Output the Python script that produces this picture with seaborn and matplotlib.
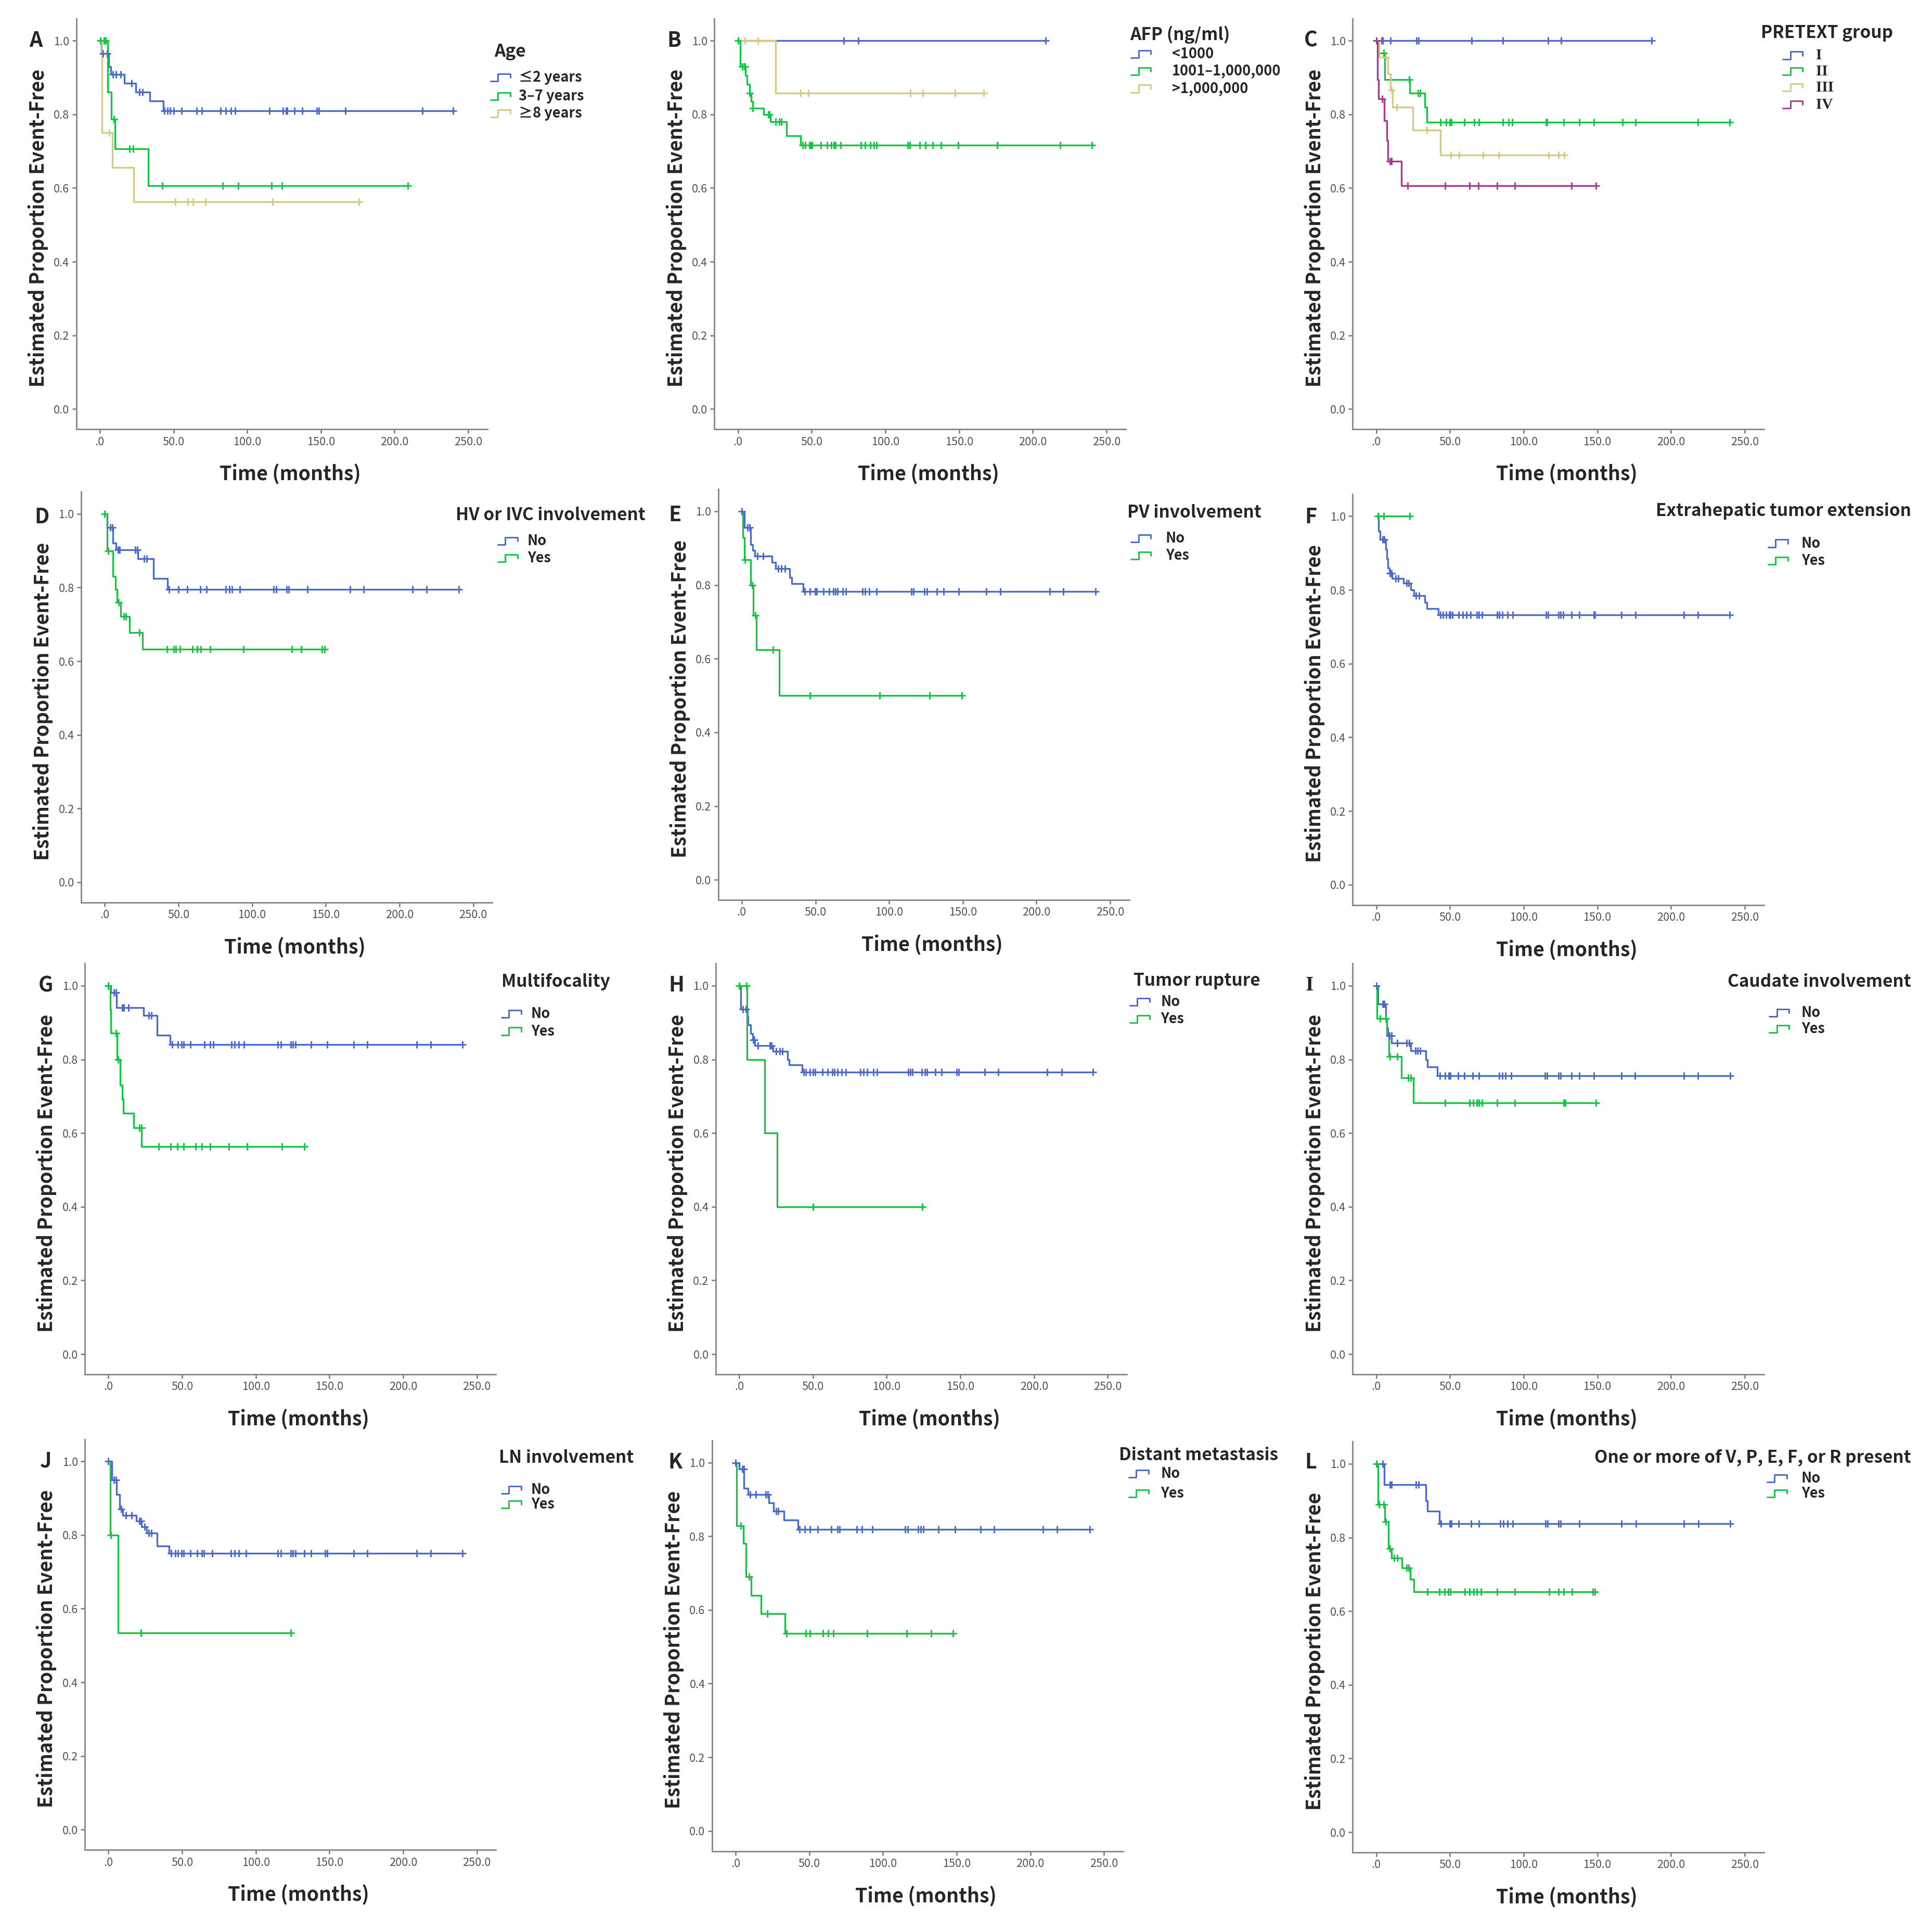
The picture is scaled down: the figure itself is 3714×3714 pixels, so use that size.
import numpy as np
import pandas as pd
import matplotlib
matplotlib.use("Agg")
import matplotlib.pyplot as plt
import seaborn as sns
from matplotlib.lines import Line2D

# Kaplan-Meier curves, event-free survival by risk factor (12 panels)
# each group: step times (_t), proportion after the step (_s), censored times (_c)

# A  Age
a1_t = [0, 1.0, 6.0, 7.5, 16.7, 24.4, 33.9, 43.0]
a1_s = [1.0, 0.965, 0.93, 0.908, 0.885, 0.861, 0.837, 0.809]
a1_c = [2.2, 5.0, 9.0, 11.0, 14.0, 21.7, 27.0, 29.0, 43.9, 45.8, 47.8, 50.0, 55.6, 65.6, 69.4,
        81.9, 85.6, 88.9, 91.7, 115.3, 124.4, 126.4, 127.2, 131.9, 137.5, 147.2, 148.6, 166.7,
        218.9, 239.7]
a2_t = [0, 5.5, 7.8, 10.3, 32.8]
a2_s = [1.0, 0.86, 0.787, 0.707, 0.606]
a2_c = [0.3, 3.0, 4.0, 9.7, 20.3, 22.8, 42.5, 83.3, 93.9, 116.7, 123.6, 208.9]
a3_t = [0, 1.4, 8.6, 23.0]
a3_s = [1.0, 0.751, 0.656, 0.563]
a3_c = [6.4, 51.1, 59.7, 63.1, 71.7, 117.2, 175.8]

# B  AFP
b1_t = [0]
b1_s = [1.0]
b1_c = [71.7, 81.5, 208.8]
b2_t = [0, 1.5, 5.0, 6.0, 8.0, 9.0, 10.0, 17.5, 22.0, 33.0, 42.3]
b2_s = [1.0, 0.929, 0.905, 0.882, 0.858, 0.835, 0.817, 0.80, 0.78, 0.742, 0.717]
b2_c = [0.0, 2.8, 4.2, 4.7, 8.0, 10.0, 20.6, 21.4, 25.6, 28.1, 29.2, 43.7, 45.6, 48.4, 49.5,
        50.3, 56.1, 60.3, 63.3, 65.0, 66.1, 69.5, 83.4, 86.2, 89.8, 92.3, 93.9, 115.3, 116.7,
        123.4, 127.3, 132.0, 137.6, 149.3, 175.7, 218.6, 240.0]
b3_t = [0, 25.6]
b3_s = [1.0, 0.858]
b3_c = [4.7, 13.6, 42.5, 47.8, 116.8, 125.4, 147.4, 166.6]

# C  PRETEXT group
c1_t = [0]
c1_s = [1.0]
c1_c = [3.6, 4.4, 9.7, 27.1, 28.7, 64.6, 85.9, 116.6, 125.4, 186.7]
c2_t = [0, 1.4, 5.8, 22.7, 32.9, 34.5]
c2_s = [1.0, 0.966, 0.894, 0.857, 0.819, 0.778]
c2_c = [5.2, 22.4, 28.2, 29.8, 43.6, 47.5, 49.7, 50.8, 59.9, 66.3, 69.6, 85.9, 89.8, 92.3,
        115.2, 116.0, 127.1, 137.6, 147.5, 166.9, 176.0, 218.2, 239.8]
c3_t = [0, 2.0, 7.7, 9.5, 11.0, 24.9, 43.4]
c3_s = [1.0, 0.955, 0.91, 0.866, 0.819, 0.757, 0.689]
c3_c = [6.6, 10.5, 13.8, 34.5, 50.6, 56.1, 72.4, 83.1, 117.1, 123.5, 127.6]
c4_t = [0, 0.8, 1.5, 5.5, 7.0, 8.0, 17.1]
c4_s = [1.0, 0.895, 0.842, 0.783, 0.729, 0.673, 0.606]
c4_c = [0.0, 3.9, 9.4, 10.5, 21.3, 46.7, 63.3, 69.1, 82.0, 93.9, 132.6, 149.2]

# D  HV or IVC involvement
d1_t = [0, 1.7, 5.6, 7.5, 22.5, 33.0, 42.5]
d1_s = [1.0, 0.963, 0.92, 0.902, 0.878, 0.824, 0.795]
d1_c = [3.9, 5.3, 8.9, 10.0, 20.6, 22.0, 26.7, 28.4, 43.7, 50.0, 55.9, 64.8, 69.2, 82.0, 84.5,
        86.5, 91.8, 114.6, 116.5, 123.5, 124.9, 137.4, 166.6, 175.5, 208.8, 218.3, 240.3]
d2_t = [0, 1.7, 5.6, 7.2, 8.5, 11.0, 17.0, 25.6]
d2_s = [1.0, 0.90, 0.83, 0.795, 0.759, 0.721, 0.678, 0.633]
d2_c = [0.0, 2.5, 9.5, 13.0, 14.5, 23.4, 42.3, 47.0, 48.4, 51.2, 59.5, 62.6, 65.1, 71.7, 94.0,
        127.1, 133.2, 147.4, 149.1]

# E  PV involvement
e1_t = [0, 1.7, 6.0, 7.5, 9.0, 20.6, 22.8, 32.5, 34.0, 41.7]
e1_s = [1.0, 0.956, 0.91, 0.894, 0.879, 0.862, 0.844, 0.82, 0.804, 0.782]
e1_c = [0.0, 3.9, 5.3, 10.6, 14.5, 24.7, 26.7, 29.5, 42.8, 46.2, 49.8, 50.9, 55.3, 59.2, 62.0,
        63.7, 65.1, 68.4, 70.6, 81.8, 83.7, 86.5, 91.5, 115.1, 116.5, 124.0, 125.7, 132.4,
        137.1, 147.4, 166.0, 175.5, 208.9, 218.1, 240.0]
e2_t = [0, 0.8, 1.7, 6.1, 7.8, 10.0, 25.6]
e2_s = [1.0, 0.93, 0.869, 0.799, 0.717, 0.625, 0.50]
e2_c = [2.0, 7.0, 9.2, 21.1, 46.4, 93.7, 127.6, 149.3]

# F  Extrahepatic tumor extension
f1_t = [0, 1.4, 2.5, 6.4, 7.0, 8.0, 9.0, 10.8, 18.5, 23.5, 25.4, 32.9, 34.5, 42.0]
f1_s = [1.0, 0.96, 0.937, 0.91, 0.885, 0.86, 0.845, 0.831, 0.818, 0.80, 0.785, 0.766, 0.75, 0.733]
f1_c = [4.4, 5.5, 9.4, 10.2, 13.0, 14.9, 20.4, 21.8, 26.8, 29.0, 43.4, 45.3, 47.5, 49.4, 50.3,
        51.7, 55.8, 58.6, 61.3, 64.1, 68.2, 69.6, 71.8, 82.0, 83.4, 85.6, 89.0, 92.5, 115.2,
        116.6, 123.5, 124.9, 126.8, 132.6, 137.6, 147.5, 148.3, 166.3, 176.0, 208.6, 218.2, 239.8]
f2_t = [0]
f2_s = [1.0]
f2_c = [1.1, 5.2, 22.7]

# G  Multifocality
g1_t = [0, 1.7, 5.6, 24.0, 32.9, 41.8]
g1_s = [1.0, 0.981, 0.94, 0.919, 0.866, 0.84]
g1_c = [0.0, 3.6, 5.0, 9.2, 10.6, 13.6, 27.3, 29.2, 43.4, 47.3, 49.6, 50.9, 55.7, 65.1, 69.0,
        71.3, 83.5, 85.7, 88.5, 92.1, 115.0, 116.9, 123.6, 125.3, 126.9, 137.5, 148.4, 166.5,
        175.7, 209.1, 218.8, 240.3]
g2_t = [0, 1.1, 1.7, 5.8, 7.8, 9.2, 10.0, 17.0, 22.5]
g2_s = [1.0, 0.935, 0.871, 0.80, 0.73, 0.692, 0.654, 0.614, 0.563]
g2_c = [0.0, 5.0, 6.4, 20.9, 22.3, 34.2, 42.3, 46.8, 50.9, 59.3, 63.5, 69.0, 81.6, 94.1, 117.8,
        132.8]

# H  Tumor rupture
h1_t = [0, 1.1, 5.6, 6.1, 7.8, 9.2, 10.6, 22.9, 32.6, 34.0, 42.6]
h1_s = [1.0, 0.937, 0.915, 0.894, 0.87, 0.853, 0.838, 0.822, 0.80, 0.785, 0.765]
h1_c = [2.5, 4.5, 9.5, 10.3, 12.5, 20.6, 21.7, 25.1, 27.6, 29.3, 43.8, 45.2, 47.9, 49.9, 51.6,
        56.3, 59.9, 63.3, 64.7, 66.6, 69.4, 72.2, 82.2, 84.2, 86.9, 91.1, 93.4, 114.8, 116.2,
        117.6, 124.0, 126.0, 127.4, 132.9, 137.1, 147.4, 148.8, 166.7, 175.6, 209.0, 218.8, 240.0]
h2_t = [0, 5.3, 17.3, 25.6]
h2_s = [1.0, 0.80, 0.60, 0.40]
h2_c = [0.0, 5.0, 49.9, 124.3]

# I  Caudate involvement
i1_t = [0, 1.1, 6.4, 7.2, 8.0, 10.5, 23.5, 33.5, 34.6, 41.3]
i1_s = [1.0, 0.95, 0.91, 0.885, 0.865, 0.844, 0.823, 0.80, 0.78, 0.755]
i1_c = [0.0, 4.2, 5.5, 8.9, 10.2, 14.1, 20.5, 22.4, 26.6, 28.0, 29.6, 43.2, 46.8, 49.3, 50.1,
        55.6, 59.8, 65.3, 69.5, 83.3, 85.5, 87.5, 91.6, 114.6, 116.0, 123.5, 124.9, 132.6,
        137.6, 147.6, 166.4, 175.5, 208.7, 218.4, 240.0]
i2_t = [0, 0.6, 7.2, 8.6, 16.9, 25.2]
i2_s = [1.0, 0.911, 0.865, 0.808, 0.75, 0.682]
i2_c = [2.5, 6.4, 9.1, 14.1, 21.6, 23.3, 46.8, 63.1, 65.9, 68.1, 69.5, 71.7, 81.9, 93.9, 127.1,
        128.2, 149.2]

# J  LN involvement
j1_t = [0, 2.2, 5.6, 7.5, 9.7, 18.9, 22.3, 25.9, 32.9, 41.2]
j1_s = [1.0, 0.95, 0.91, 0.87, 0.854, 0.838, 0.822, 0.805, 0.77, 0.751]
j1_c = [0.0, 3.9, 5.0, 8.6, 12.0, 15.6, 20.9, 22.0, 24.5, 27.3, 29.2, 42.6, 45.4, 47.3, 49.6,
        50.9, 55.7, 60.1, 63.5, 64.9, 70.4, 83.0, 85.7, 88.5, 93.3, 115.0, 116.9, 123.6, 125.3,
        126.9, 133.0, 137.5, 147.0, 148.4, 166.5, 175.7, 209.1, 218.8, 240.3]
j2_t = [0, 1.1, 6.7]
j2_s = [1.0, 0.80, 0.534]
j2_c = [1.7, 22.0, 123.6]

# K  Distant metastasis
k1_t = [0, 2.5, 5.8, 8.6, 22.5, 25.8, 32.8, 42.5]
k1_s = [1.0, 0.982, 0.93, 0.913, 0.89, 0.868, 0.844, 0.818]
k1_c = [0.0, 4.4, 5.5, 10.0, 13.6, 20.3, 21.7, 27.5, 28.9, 43.3, 46.9, 50.3, 55.8, 65.0, 69.2,
        70.6, 82.2, 85.6, 92.8, 115.0, 116.9, 123.9, 125.8, 127.5, 137.8, 148.9, 166.4, 175.3,
        208.6, 218.3, 240.3]
k2_t = [0, 0.8, 5.3, 7.2, 10.6, 17.2, 33.6]
k2_s = [1.0, 0.829, 0.78, 0.69, 0.64, 0.59, 0.536]
k2_c = [3.6, 9.2, 21.4, 34.4, 47.5, 50.3, 59.4, 62.8, 66.4, 89.2, 116.1, 132.8, 147.5]

# L  One or more of V, P, E, F, or R present
l1_t = [0, 5.5, 33.7, 34.6, 42.9]
l1_s = [1.0, 0.943, 0.90, 0.872, 0.837]
l1_c = [4.4, 9.4, 10.5, 26.8, 28.8, 44.0, 49.8, 50.9, 55.9, 64.2, 69.7, 84.1, 86.3, 89.0, 92.4,
        114.8, 116.2, 123.6, 125.0, 137.7, 166.5, 176.2, 208.8, 218.5, 240.0]
l2_t = [0, 1.1, 5.8, 8.3, 10.2, 17.4, 23.0, 25.4]
l2_s = [1.0, 0.89, 0.843, 0.77, 0.744, 0.718, 0.687, 0.653]
l2_c = [0.0, 1.9, 5.0, 6.6, 9.1, 12.2, 14.1, 20.7, 22.1, 34.6, 42.9, 46.2, 48.9, 50.3, 60.0,
        63.3, 66.1, 68.3, 71.1, 82.1, 94.0, 117.3, 123.6, 127.2, 132.7, 147.1, 148.5]

yes_no = ["No", "Yes"]
x_ticks = [0, 50, 100, 150, 200, 250]
x_ticklabels = [".0", "50.0", "100.0", "150.0", "200.0", "250.0"]
y_ticks = [0.0, 0.2, 0.4, 0.6, 0.8, 1.0]
y_ticklabels = ["0.0", "0.2", "0.4", "0.6", "0.8", "1.0"]

BLUE = "#4a6acc"
GREEN = "#14c445"
KHAKI = "#d4ca86"
PURPLE = "#ad3790"

# layout is measured on a 1568 px preview of the figure
P = 1568.0
def fx(x):
    return x / P
def fy(y):
    return 1 - y / P

XLIM = (-16, 263)
YLIM = (-0.055, 1.06)
UX = 299 / 250.0
UY = 299.0

panels = [
    dict(letter="A", x0=81, y1=33, title="Age", tx=401, ty=42, ha="left",
         groups=[(a1_t, a1_s, a1_c), (a2_t, a2_s, a2_c), (a3_t, a3_s, a3_c)],
         labels=["≤2 years", "3–7 years", "≥8 years"], colors=[BLUE, GREEN, KHAKI],
         ix=398, lx=421, ly=[63, 78, 92]),
    dict(letter="B", x0=599, y1=33, title="AFP (ng/ml)", tx=917, ty=28, ha="left",
         groups=[(b1_t, b1_s, b1_c), (b2_t, b2_s, b2_c), (b3_t, b3_s, b3_c)],
         labels=["<1000", "1001–1,000,000", ">1,000,000"], colors=[BLUE, GREEN, KHAKI],
         ix=918, lx=951, ly=[44, 58, 72]),
    dict(letter="C", x0=1117, y1=33, title="PRETEXT group", tx=1429, ty=27, ha="left",
         groups=[(c1_t, c1_s, c1_c), (c2_t, c2_s, c2_c), (c3_t, c3_s, c3_c), (c4_t, c4_s, c4_c)],
         labels=["I", "II", "III", "IV"], colors=[BLUE, GREEN, KHAKI, PURPLE],
         ix=1447, lx=1474, ly=[45, 58, 71, 85], serif=True),
    dict(letter="D", x0=85, y1=417, title="HV or IVC involvement", tx=524, ty=418, ha="right",
         groups=[(d1_t, d1_s, d1_c), (d2_t, d2_s, d2_c)],
         labels=yes_no, colors=[BLUE, GREEN], ix=404, lx=428, ly=[439, 453]),
    dict(letter="E", x0=602, y1=415, title="PV involvement", tx=915, ty=416, ha="left",
         groups=[(e1_t, e1_s, e1_c), (e2_t, e2_s, e2_c)],
         labels=yes_no, colors=[BLUE, GREEN], ix=918, lx=946, ly=[437, 451]),
    dict(letter="F", x0=1117, y1=419, title="Extrahepatic tumor extension", tx=1551, ty=415,
         ha="right", groups=[(f1_t, f1_s, f1_c), (f2_t, f2_s, f2_c)],
         labels=yes_no, colors=[BLUE, GREEN], ix=1435, lx=1462, ly=[441, 455]),
    dict(letter="G", x0=88, y1=800, title="Multifocality", tx=407, ty=797, ha="left",
         groups=[(g1_t, g1_s, g1_c), (g2_t, g2_s, g2_c)],
         labels=yes_no, colors=[BLUE, GREEN], ix=407, lx=431, ly=[823, 837]),
    dict(letter="H", x0=600, y1=800, title="Tumor rupture", tx=920, ty=796, ha="left",
         groups=[(h1_t, h1_s, h1_c), (h2_t, h2_s, h2_c)],
         labels=yes_no, colors=[BLUE, GREEN], ix=917, lx=942, ly=[813, 827]),
    dict(letter="I", x0=1117, y1=800, title="Caudate involvement", tx=1551, ty=797, ha="right",
         groups=[(i1_t, i1_s, i1_c), (i2_t, i2_s, i2_c)],
         labels=yes_no, colors=[BLUE, GREEN], ix=1436, lx=1462, ly=[822, 835]),
    dict(letter="J", x0=88, y1=1186, title="LN involvement", tx=405, ty=1183, ha="left",
         groups=[(j1_t, j1_s, j1_c), (j2_t, j2_s, j2_c)],
         labels=yes_no, colors=[BLUE, GREEN], ix=407, lx=431, ly=[1209, 1221]),
    dict(letter="K", x0=597, y1=1187, title="Distant metastasis", tx=908, ty=1181, ha="left",
         groups=[(k1_t, k1_s, k1_c), (k2_t, k2_s, k2_c)],
         labels=yes_no, colors=[BLUE, GREEN], ix=916, lx=942, ly=[1196, 1212]),
    dict(letter="L", x0=1117, y1=1188, title="One or more of V, P, E, F, or R present",
         tx=1551, ty=1183, ha="right", groups=[(l1_t, l1_s, l1_c), (l2_t, l2_s, l2_c)],
         labels=yes_no, colors=[BLUE, GREEN], ix=1434, lx=1462, ly=[1200, 1212]),
]
letter_pos = {"A": (29, 33), "B": (547, 33), "C": (1064, 33), "D": (34, 420), "E": (548, 418),
              "F": (1064, 420), "G": (37, 800), "H": (549, 800), "I": (1063, 800),
              "J": (37, 1186), "K": (548, 1187), "L": (1064, 1187)}

sns.set_style("white")
plt.rcParams["font.family"] = ["Noto Sans CJK KR", "DejaVu Sans"]
SERIF = ["Liberation Serif", "DejaVu Serif"]


def km_frame(t, s, c):
    end = max(max(c) if c else 0, t[-1])
    return pd.DataFrame({"time": list(t) + [end], "surv": list(s) + [s[-1]]})


def censor_frame(t, s, c):
    idx = np.searchsorted(np.array(t), np.array(c), side="right") - 1
    return pd.DataFrame({"time": c, "surv": np.array(s)[idx]})


fig = plt.figure(figsize=(3714 / 300, 3714 / 300), dpi=300)
w = (XLIM[1] - XLIM[0]) * UX
h = (YLIM[1] - YLIM[0]) * UY

for p in panels:
    left = p["x0"] + XLIM[0] * UX
    top = p["y1"] - (YLIM[1] - 1.0) * UY
    ax = fig.add_axes([fx(left), fy(top + h), w / P, h / P])

    for (t, s, c), col in zip(p["groups"], p["colors"]):
        sns.lineplot(data=km_frame(t, s, c), x="time", y="surv", ax=ax, color=col, lw=0.8,
                     drawstyle="steps-post", estimator=None, sort=False, legend=False)
        sns.scatterplot(data=censor_frame(t, s, c), x="time", y="surv", ax=ax, marker="+",
                        s=12, color=col, linewidth=0.7, legend=False, zorder=3)

    ax.set_xlim(*XLIM)
    ax.set_ylim(*YLIM)
    ax.set_xticks(x_ticks)
    ax.set_xticklabels(x_ticklabels)
    ax.set_yticks(y_ticks)
    ax.set_yticklabels(y_ticklabels)
    ax.tick_params(axis="both", direction="out", length=2, width=0.6, color="#777777",
                   labelsize=5.2, labelcolor="#505050", pad=1.2, left=True, bottom=True)
    for side in ["top", "right"]:
        ax.spines[side].set_visible(False)
    for side in ["left", "bottom"]:
        ax.spines[side].set_color("#8a8a8a")
        ax.spines[side].set_linewidth(0.7)

    ax.set_xlabel("Time (months)", fontsize=9, fontweight="bold")
    ax.set_ylabel("Estimated Proportion Event-Free", fontsize=9, fontweight="bold")
    ax.xaxis.set_label_coords(0.52, -36.5 / h)
    ax.xaxis.label.set_va("center")
    ax.yaxis.set_label_coords(-31 / w, 0.49)
    ax.yaxis.label.set_va("center")

    lx, ly = letter_pos[p["letter"]]
    fam = SERIF if p["letter"] == "I" else None
    fig.text(fx(lx), fy(ly), p["letter"], fontsize=9.5, fontweight="bold", ha="center",
             va="center", family=fam)

    # legend: title + SPSS-like step icons
    fig.text(fx(p["tx"]), fy(p["ty"]), p["title"], fontsize=8, fontweight="bold",
             ha=p["ha"], va="center")
    for lab, col, yy in zip(p["labels"], p["colors"], p["ly"]):
        x_a = p["ix"]
        xs = [x_a, x_a + 6, x_a + 6, x_a + 16, x_a + 16]
        ys = [yy + 3, yy + 3, yy - 3, yy - 3, yy]
        fig.add_artist(Line2D([fx(v) for v in xs], [fy(v) for v in ys],
                              transform=fig.transFigure, color=col, lw=0.7))
        if p.get("serif"):
            fig.text(fx(p["lx"]), fy(yy), lab, fontsize=7, fontweight="bold", ha="left",
                     va="center", family=SERIF)
        else:
            fig.text(fx(p["lx"]), fy(yy), lab, fontsize=6.5, fontweight="bold", ha="left",
                     va="center")

fig.savefig("out.png", dpi=300, facecolor="white")
